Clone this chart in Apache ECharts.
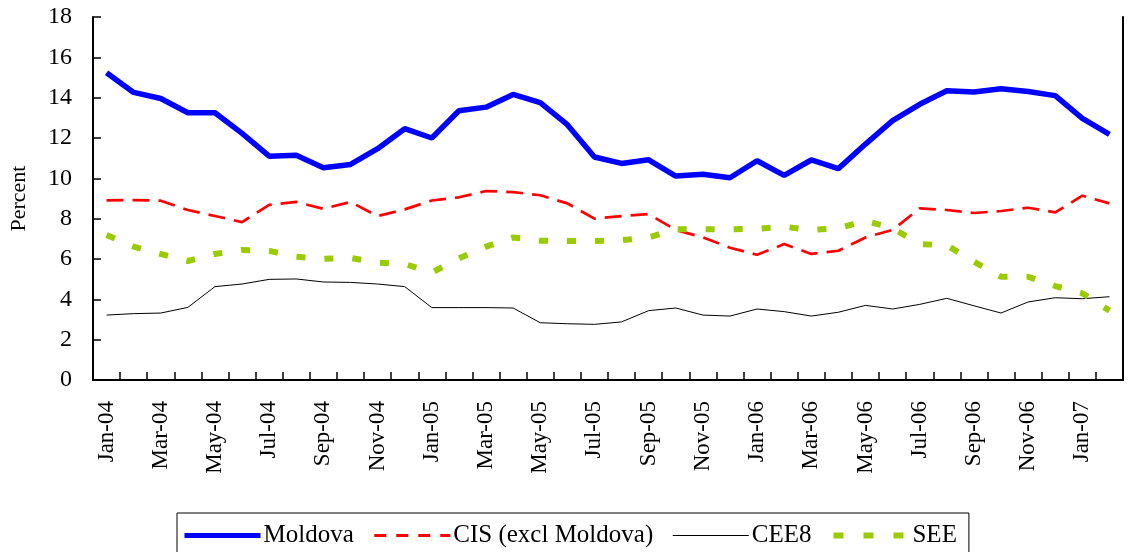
<!DOCTYPE html>
<html>
<head>
<meta charset="utf-8">
<script src="https://cdn.jsdelivr.net/npm/echarts@6/dist/echarts.min.js"></script>
<style>
  html, body { margin: 0; padding: 0; background: #fff; }
  #chart { width: 1128px; height: 552px; }
</style>
</head>
<body>
<div id="chart"></div>
<script>
// monthly, Jan-04 .. Feb-07
const months = [
  'Jan-04', 'Feb-04', 'Mar-04', 'Apr-04', 'May-04', 'Jun-04', 'Jul-04', 'Aug-04', 'Sep-04', 'Oct-04', 'Nov-04', 'Dec-04',
  'Jan-05', 'Feb-05', 'Mar-05', 'Apr-05', 'May-05', 'Jun-05', 'Jul-05', 'Aug-05', 'Sep-05', 'Oct-05', 'Nov-05', 'Dec-05',
  'Jan-06', 'Feb-06', 'Mar-06', 'Apr-06', 'May-06', 'Jun-06', 'Jul-06', 'Aug-06', 'Sep-06', 'Oct-06', 'Nov-06', 'Dec-06',
  'Jan-07', 'Feb-07'
];

const moldova = [
  15.24, 14.26, 13.96, 13.25, 13.25, 12.23, 11.1, 11.14, 10.53, 10.69, 11.47, 12.46,
  12.0, 13.35, 13.53, 14.16, 13.75, 12.66, 11.06, 10.74, 10.92, 10.11, 10.2, 10.03,
  10.87, 10.15, 10.91, 10.48, 11.7, 12.86, 13.67, 14.34, 14.28, 14.44, 14.31, 14.1,
  12.97, 12.18
];

const cis = [
  8.91, 8.92, 8.89, 8.43, 8.13, 7.83, 8.68, 8.83, 8.49, 8.83, 8.13, 8.46,
  8.9, 9.06, 9.37, 9.32, 9.16, 8.76, 8.0, 8.13, 8.23, 7.44, 7.07, 6.56,
  6.21, 6.74, 6.25, 6.41, 7.07, 7.44, 8.51, 8.43, 8.28, 8.38, 8.54, 8.31,
  9.14, 8.76
];

const cee8 = [
  3.22, 3.29, 3.32, 3.6, 4.63, 4.76, 4.99, 5.01, 4.86, 4.84, 4.76, 4.63,
  3.59, 3.59, 3.59, 3.57, 2.84, 2.79, 2.76, 2.88, 3.44, 3.57, 3.22, 3.17,
  3.52, 3.39, 3.17, 3.36, 3.7, 3.52, 3.75, 4.05, 3.68, 3.32, 3.87, 4.08,
  4.03, 4.13
];

const see = [
  7.19, 6.61, 6.25, 5.9, 6.25, 6.45, 6.4, 6.11, 6.01, 6.05, 5.82, 5.75,
  5.33, 6.03, 6.61, 7.07, 6.91, 6.89, 6.89, 6.93, 7.07, 7.47, 7.47, 7.47,
  7.5, 7.6, 7.44, 7.52, 7.9, 7.52, 6.74, 6.68, 5.87, 5.12, 5.12, 4.66,
  4.3, 3.44
];

const serif = '"Liberation Serif", "Times New Roman", serif';

let myChart = echarts.init(document.getElementById('chart'));

let option = {
  animation: false,
  backgroundColor: '#fff',
  grid: {
    left: 93,
    right: 5,
    top: 17,
    bottom: 172,
    containLabel: false,
    outerBoundsMode: 'none'
  },
  legend: {
    top: 513,
    left: 177,
    itemWidth: 76,
    itemHeight: 14,
    itemGap: 19,
    padding: [10, 12, 30, 5],
    borderColor: '#000',
    borderWidth: 1,
    itemStyle: { opacity: 0 },
    textStyle: { fontFamily: serif, fontSize: 25, color: '#000', padding: [0, 0, 0, -2] },
    data: [
      { name: 'Moldova', lineStyle: { color: '#0000ff', width: 5 } },
      { name: 'CIS (excl Moldova)', lineStyle: { color: '#ff0000', width: 3, type: [12, 10] } },
      { name: 'CEE8', lineStyle: { color: '#000', width: 1 } },
      { name: 'SEE', lineStyle: { color: '#99cc00', width: 6, type: [10, 20] } }
    ]
  },
  xAxis: {
    type: 'category',
    data: months,
    boundaryGap: true,
    axisLine: { lineStyle: { color: '#000', width: 2 } },
    axisTick: { show: true, inside: true, length: 8, interval: 0, lineStyle: { color: '#000', width: 1.5 } },
    axisLabel: {
      interval: 1,
      rotate: 90,
      margin: 21,
      fontFamily: serif,
      fontSize: 23,
      color: '#000'
    }
  },
  yAxis: [
    {
      type: 'value',
      min: 0,
      max: 18,
      interval: 2,
      name: 'Percent',
      nameLocation: 'middle',
      nameRotate: 90,
      nameGap: 63,
      nameTextStyle: { fontFamily: serif, fontSize: 22, color: '#000' },
      splitLine: { show: false },
      axisLine: { show: true, lineStyle: { color: '#000', width: 2 } },
      axisTick: { show: true, inside: true, length: 8, lineStyle: { color: '#000', width: 1.5 } },
      axisLabel: { margin: 21, fontFamily: serif, fontSize: 24, color: '#000' }
    },
    {
      // right-hand frame line
      type: 'value',
      min: 0,
      max: 18,
      position: 'right',
      splitLine: { show: false },
      axisLine: { show: true, lineStyle: { color: '#000', width: 2 } },
      axisTick: { show: false },
      axisLabel: { show: false }
    }
  ],
  series: [
    {
      name: 'Moldova',
      type: 'line',
      data: moldova,
      symbol: 'none',
      color: '#0000ff',
      lineStyle: { color: '#0000ff', width: 5.5 }
    },
    {
      name: 'CIS (excl Moldova)',
      type: 'line',
      data: cis,
      symbol: 'none',
      color: '#ff0000',
      lineStyle: { color: '#ff0000', width: 2.7, type: [17, 9] }
    },
    {
      name: 'CEE8',
      type: 'line',
      data: cee8,
      symbol: 'none',
      color: '#000',
      lineStyle: { color: '#000', width: 1 }
    },
    {
      name: 'SEE',
      type: 'line',
      data: see,
      symbol: 'none',
      color: '#99cc00',
      lineStyle: { color: '#99cc00', width: 6, type: [9, 19] }
    }
  ]
};

option && myChart.setOption(option);
</script>
</body>
</html>
